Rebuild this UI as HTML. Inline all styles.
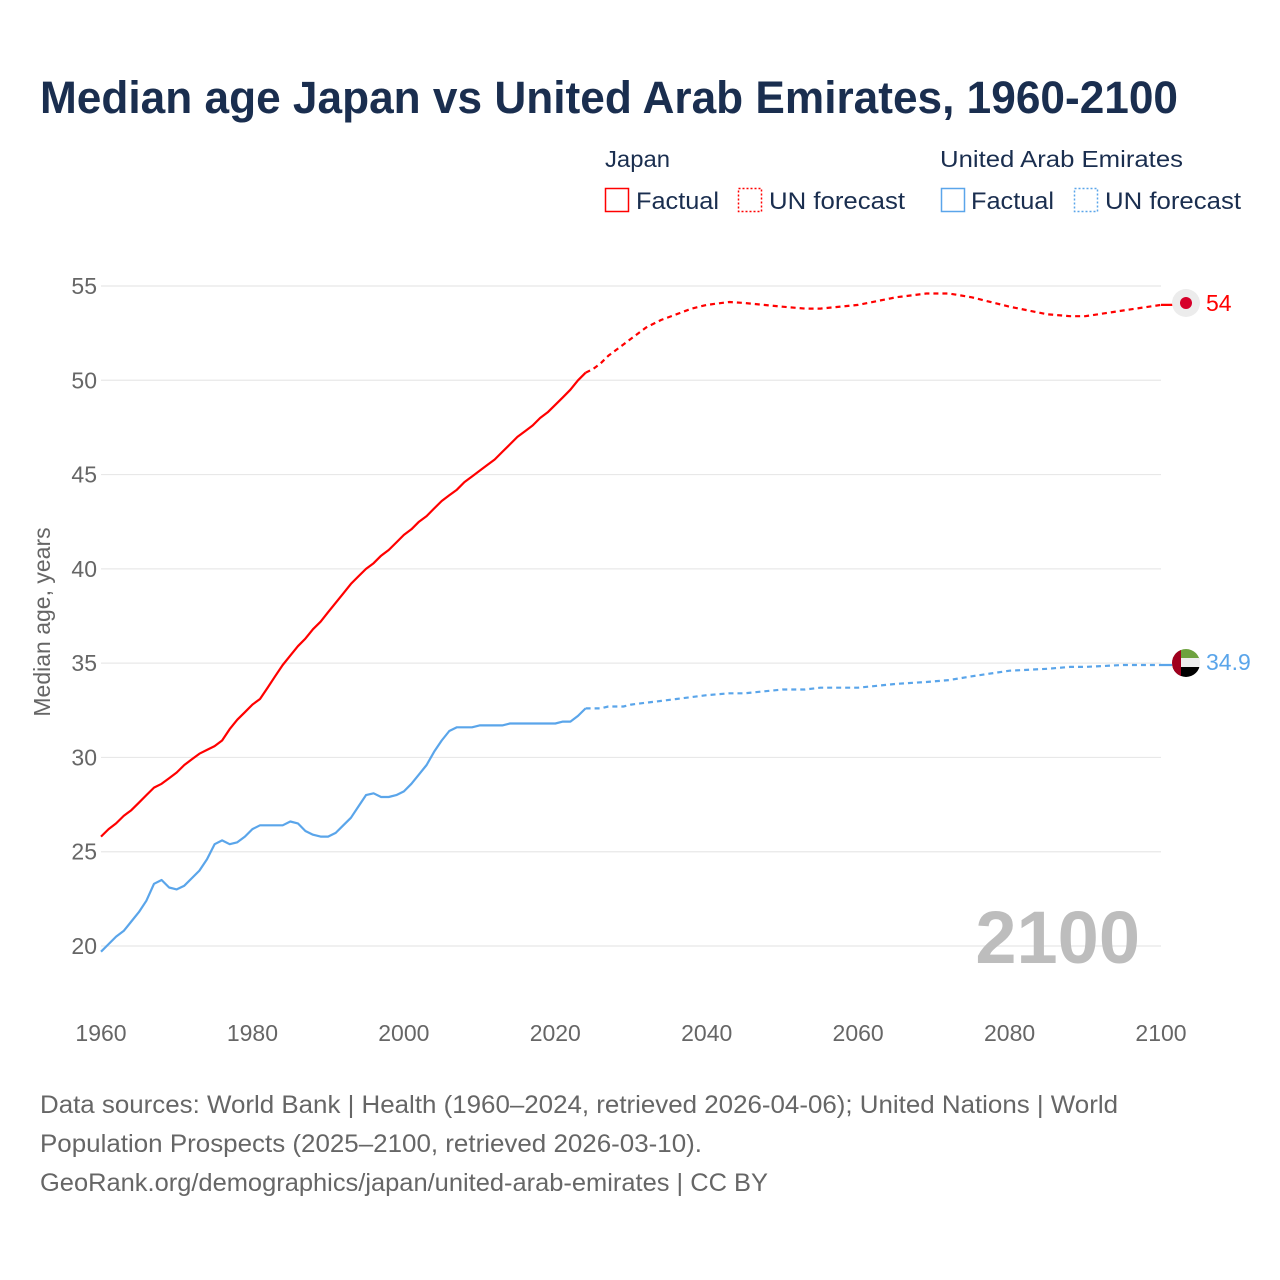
<!DOCTYPE html>
<html><head><meta charset="utf-8"><style>
html,body{margin:0;padding:0;background:#fff;}
svg{display:block;font-family:"Liberation Sans",sans-serif;}
</style></head><body>
<svg id="chart" width="1280" height="1280" viewBox="0 0 1280 1280">
<defs><clipPath id="uaeclip"><circle cx="1186" cy="663" r="14"/></clipPath></defs>
<text x="40" y="113" font-size="45" font-weight="bold" fill="#1a2e4f" textLength="1138" lengthAdjust="spacingAndGlyphs">Median age Japan vs United Arab Emirates, 1960-2100</text>
<g>
<text x="605" y="167" font-size="23" fill="#1a2e4f" textLength="65" lengthAdjust="spacingAndGlyphs">Japan</text>
<text x="940" y="167" font-size="23" fill="#1a2e4f" textLength="243" lengthAdjust="spacingAndGlyphs">United Arab Emirates</text>
<g><rect x="605.5" y="188.5" width="23" height="23" fill="none" stroke="#f00" stroke-width="1.5"/><text x="636" y="209" font-size="24" fill="#1a2e4f" textLength="83" lengthAdjust="spacingAndGlyphs">Factual</text></g>
<g><rect x="738.5" y="188.5" width="23" height="23" fill="none" stroke="#f00" stroke-width="1.5" stroke-dasharray="2,2"/><text x="769" y="209" font-size="24" fill="#1a2e4f" textLength="136" lengthAdjust="spacingAndGlyphs">UN forecast</text></g>
<g><rect x="941.5" y="188.5" width="23" height="23" fill="none" stroke="#5aa5ea" stroke-width="1.5"/><text x="971" y="209" font-size="24" fill="#1a2e4f" textLength="83" lengthAdjust="spacingAndGlyphs">Factual</text></g>
<g><rect x="1074.5" y="188.5" width="23" height="23" fill="none" stroke="#5aa5ea" stroke-width="1.5" stroke-dasharray="2,2"/><text x="1105" y="209" font-size="24" fill="#1a2e4f" textLength="136" lengthAdjust="spacingAndGlyphs">UN forecast</text></g>
</g>
<g id="grid"></g>
<g id="yticks"></g>
<g id="xticks"></g>
<text transform="translate(50,622) rotate(-90)" text-anchor="middle" font-size="23" fill="#666">Median age, years</text>
<text x="1140" y="963" text-anchor="end" font-size="74" font-weight="bold" fill="#bdbdbd">2100</text>
<g id="series"></g>
<g><circle cx="1186" cy="303" r="14" fill="#ececec"/><circle cx="1186" cy="303" r="6" fill="#d6002a"/></g>
<g clip-path="url(#uaeclip)">
<rect x="1172" y="649" width="28" height="10" fill="#6ea23f"/><rect x="1172" y="658" width="28" height="10" fill="#eeeeee"/><rect x="1172" y="667" width="28" height="10" fill="#000"/><rect x="1172" y="649" width="9" height="28" fill="#a0001e"/>
</g>
<text x="1206" y="311" font-size="23" fill="#f00">54</text>
<text x="1206" y="670" font-size="23" fill="#5aa5ea">34.9</text>
<g font-size="25" fill="#666" lengthAdjust="spacingAndGlyphs">
<text x="40" y="1113" textLength="1078" lengthAdjust="spacingAndGlyphs">Data sources: World Bank | Health (1960–2024, retrieved 2026-04-06); United Nations | World</text>
<text x="40" y="1152" textLength="662" lengthAdjust="spacingAndGlyphs">Population Prospects (2025–2100, retrieved 2026-03-10).</text>
<text x="40" y="1191" textLength="728" lengthAdjust="spacingAndGlyphs">GeoRank.org/demographics/japan/united-arab-emirates | CC BY</text>
</g>
</svg>
<script>
const yTicks=[20,25,30,35,40,45,50,55];
const xTicks=[1960,1980,2000,2020,2040,2060,2080,2100];
const japanFactual=[25.8,26.2,26.5,26.9,27.2,27.6,28.0,28.4,28.6,28.9,29.2,29.6,29.9,30.2,30.4,30.6,30.9,31.5,32.0,32.4,32.8,33.1,33.7,34.3,34.9,35.4,35.9,36.3,36.8,37.2,37.7,38.2,38.7,39.2,39.6,40.0,40.3,40.7,41.0,41.4,41.8,42.1,42.5,42.8,43.2,43.6,43.9,44.2,44.6,44.9,45.2,45.5,45.8,46.2,46.6,47.0,47.3,47.6,48.0,48.3,48.7,49.1,49.5,50.0,50.4];
const uaeFactual=[19.7,20.1,20.5,20.8,21.3,21.8,22.4,23.3,23.5,23.1,23.0,23.2,23.6,24.0,24.6,25.4,25.6,25.4,25.5,25.8,26.2,26.4,26.4,26.4,26.4,26.6,26.5,26.1,25.9,25.8,25.8,26.0,26.4,26.8,27.4,28.0,28.1,27.9,27.9,28.0,28.2,28.6,29.1,29.6,30.3,30.9,31.4,31.6,31.6,31.6,31.7,31.7,31.7,31.7,31.8,31.8,31.8,31.8,31.8,31.8,31.8,31.9,31.9,32.2,32.6];
const forecastYears=[2024,2025,2026,2027,2028,2029,2030,2032,2034,2036,2038,2040,2043,2045,2050,2053,2055,2060,2065,2069,2072,2075,2080,2085,2088,2090,2095,2100];
const japanForecast=[50.4,50.6,50.9,51.3,51.6,51.9,52.2,52.8,53.2,53.5,53.8,54.0,54.15,54.1,53.9,53.8,53.8,54.0,54.4,54.6,54.6,54.4,53.9,53.5,53.4,53.4,53.7,54.0];
const uaeForecast=[32.6,32.6,32.6,32.7,32.7,32.7,32.8,32.9,33.0,33.1,33.2,33.3,33.4,33.4,33.6,33.6,33.7,33.7,33.9,34.0,34.1,34.3,34.6,34.7,34.8,34.8,34.9,34.9];
const NS="http://www.w3.org/2000/svg";
const X=y=>101+(y-1960)*(1060/140);
const Y=v=>946-(v-20)*(660/35);
function mk(t,a,p){const e=document.createElementNS(NS,t);for(const k in a)e.setAttribute(k,a[k]);p.appendChild(e);return e;}
const grid=document.getElementById('grid'),yt=document.getElementById('yticks'),xt=document.getElementById('xticks'),ser=document.getElementById('series');
yTicks.forEach(v=>{
 const l=mk('line',{x1:101,x2:1161,y1:Y(v),y2:Y(v),stroke:'#e8e8e8','stroke-width':1.2},grid);
 
 
 const t=mk('text',{x:97,y:Y(v)+8,'text-anchor':'end','font-size':23,fill:'#666'},yt);t.textContent=v;
 
 
});
xTicks.forEach(v=>{
 const t=mk('text',{x:X(v),y:1041,'text-anchor':'middle','font-size':23,fill:'#666'},xt);t.textContent=v;
 
 
});
function line(xs,vs,color,dash,name){
 const d=vs.map((v,i)=>(i?'L':'M')+X(xs[i]).toFixed(1)+','+Y(v).toFixed(1)).join('');
 const p=mk('path',{d:d,fill:'none',stroke:color,'stroke-width':2.2,'stroke-linejoin':'round'},ser);
 if(dash)p.setAttribute('stroke-dasharray',dash);
 
 
}
const jy=japanFactual.map((_,i)=>1960+i);
const uy=uaeFactual.map((_,i)=>1960+i);
line(forecastYears,japanForecast,'#f00','5,4','japan-forecast-line');
line(forecastYears,uaeForecast,'#5aa5ea','5,4','uae-forecast-line');
line(jy,japanFactual,'#f00',null,'japan-factual-line');
line(uy,uaeFactual,'#5aa5ea',null,'uae-factual-line');
const lastJ=japanForecast[japanForecast.length-1],lastU=uaeForecast[uaeForecast.length-1];
line([2100,2103],[lastJ,lastJ],'#f00',null,'japan-leader');
line([2100,2103],[lastU,lastU],'#5aa5ea',null,'uae-leader');
</script>
</body></html>
